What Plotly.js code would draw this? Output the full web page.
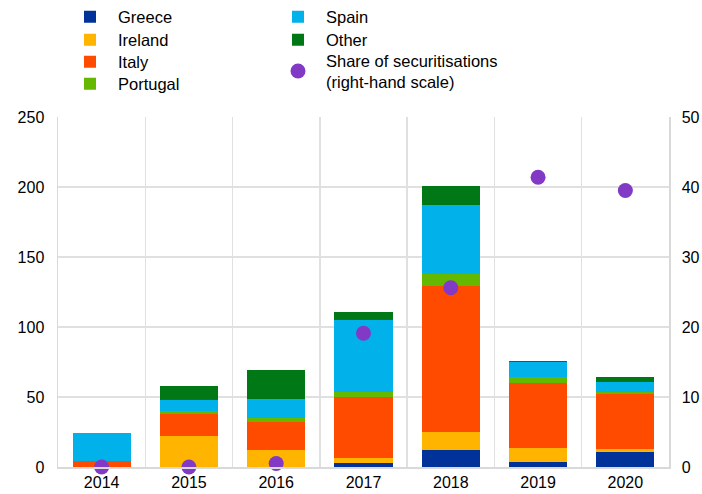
<!DOCTYPE html>
<html><head><meta charset="utf-8">
<script src="https://cdn.plot.ly/plotly-3.0.1.min.js"></script>
<style>html,body{margin:0;padding:0;background:#fff}</style>
</head><body><div id="chart" style="width:702px;height:494px"></div>
<script>
const years = ['2014','2015','2016','2017','2018','2019','2020'];
const greece   = [0, 0, 0, 2.6, 12.1, 3.8, 10.9];
const ireland  = [0, 22, 12, 3.8, 13.1, 9.5, 1.7];
const italy    = [4, 16.2, 20.5, 43.8, 104.3, 46.5, 39.8];
const portugal = [0, 2, 2.4, 3.4, 8.1, 4.7, 1.4];
const spain    = [20.5, 7.6, 13.6, 51.4, 49.8, 10.3, 6.7];
const other    = [0, 10, 20.7, 5.7, 13.3, 1.1, 4];
const share    = [0, 0, 0.5, 19.1, 25.6, 41.4, 39.5];

const font = {family: 'Liberation Sans, Arial, sans-serif', size: 16, color: '#000'};
const lfont = {family: 'Liberation Sans, Arial, sans-serif', size: 16.5, color: '#000'};
function bar(name, y, color, legend) {
  return {type: 'bar', name: name, x: years, y: y, marker: {color: color, line: {width: 0}},
          legend: legend, hoverinfo: 'none'};
}
const traces = [
  bar('Greece', greece, '#003299', 'legend'),
  bar('Ireland', ireland, '#FFB400', 'legend2'),
  bar('Italy', italy, '#FF4B00', 'legend3'),
  bar('Portugal', portugal, '#65B800', 'legend4'),
  bar('Spain', spain, '#00B1EA', 'legend5'),
  bar('Other', other, '#007816', 'legend6'),
  {type: 'scatter', mode: 'markers', name: 'Share of securitisations<br>(right-hand scale)',
   x: years, y: share, yaxis: 'y2', legend: 'legend7', cliponaxis: false,
   marker: {color: '#8139C6', size: 15}, hoverinfo: 'none'}
];
function leg(xp, ypx) {
  return {x: (xp - 58) / 611, xref: 'paper', y: 1 - ypx / 494, yref: 'container',
          xanchor: 'left', yanchor: 'middle', itemwidth: 46,
          font: lfont, bgcolor: 'rgba(0,0,0,0)'};
}
const layout = {
  width: 702, height: 494,
  margin: {l: 58, r: 33, t: 117, b: 27},
  paper_bgcolor: '#fff', plot_bgcolor: '#fff',
  font: font,
  barmode: 'stack', bargap: 0.335,
  showlegend: true,
  legend: leg(62, 17),
  legend2: leg(62, 40),
  legend3: leg(62, 62),
  legend4: leg(62, 84),
  legend5: leg(270, 17),
  legend6: leg(270, 40),
  legend7: leg(270, 71),
  xaxis: {type: 'category', tickson: 'boundaries', showgrid: true, gridcolor: '#e0e0e0', gridwidth: 1.5,
          ticks: 'outside', ticklen: 3, tickcolor: 'rgba(0,0,0,0)', showline: true, linecolor: '#d9d9d9', linewidth: 1.5,
          tickfont: font, fixedrange: true},
  yaxis: {range: [0, 250], dtick: 50, showgrid: true, gridcolor: '#e0e0e0', gridwidth: 1.5,
          zeroline: false, showline: true, linecolor: '#d9d9d9', linewidth: 1.5,
          ticks: 'outside', ticklen: 9, tickcolor: 'rgba(0,0,0,0)', tickfont: font, fixedrange: true},
  yaxis2: {range: [0, 50], dtick: 10, overlaying: 'y', side: 'right', showgrid: false,
           zeroline: false, showline: true, linecolor: '#d9d9d9', linewidth: 1.5,
           ticks: 'outside', ticklen: 8, tickcolor: 'rgba(0,0,0,0)', tickfont: font, fixedrange: true}
};
Plotly.newPlot('chart', traces, layout, {displayModeBar: false, staticPlot: true});
</script>
</body></html>
